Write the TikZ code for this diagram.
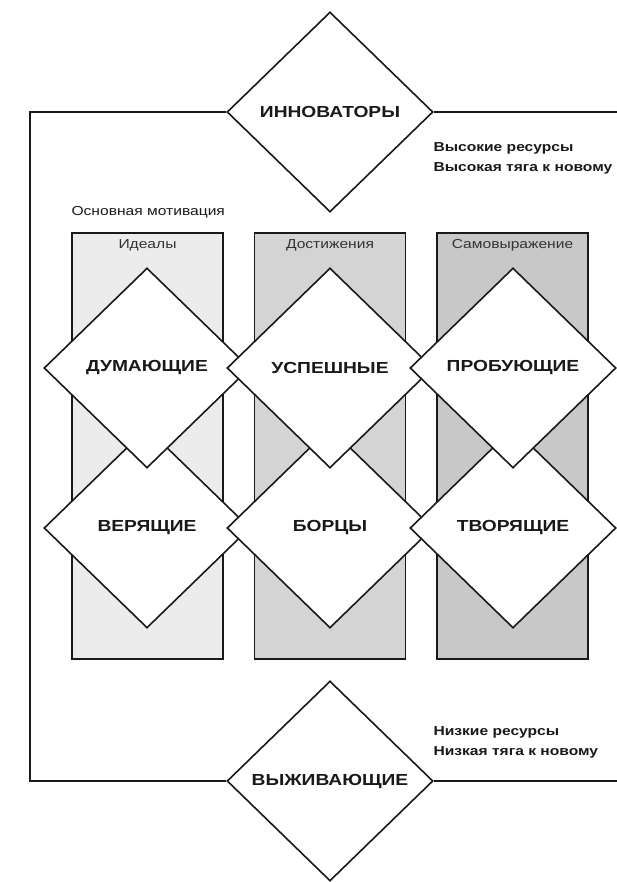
\documentclass[tikz,border=0pt]{standalone}
\usepackage{fontspec}
\setmainfont{Liberation Sans}[FakeStretch=1.2]
\usetikzlibrary{shapes.geometric,positioning}
\definecolor{colA}{RGB}{236,236,236}
\definecolor{colB}{RGB}{212,212,212}
\definecolor{colC}{RGB}{200,200,200}
\definecolor{ink}{RGB}{25,25,25}

\begin{document}
\begin{tikzpicture}[x=1pt,y=-1pt,
  seg/.style={diamond,draw=ink,line width=1.6pt,fill=white,minimum width=206pt,minimum height=200pt,inner sep=0pt,font=\fontsize{16}{19}\selectfont\bfseries,text=ink},
  col/.style={draw=ink,line width=1.5pt,minimum width=151pt,minimum height=426pt,inner sep=0pt},
  hdr/.style={font=\fontsize{13}{15}\selectfont,text=black!80},
  note/.style={align=left,anchor=west,font=\fontsize{13}{20}\selectfont\bfseries,text=ink},
  frm/.style={draw=ink,line width=2pt}]
  \useasboundingbox (0,0) rectangle (617,882);
  \node[col,fill=colA] (cid) at (147.5,446) {};
  \node[col,fill=colB] (cdo) at (330,446) {};
  \node[col,fill=colC] (csa) at (512.5,446) {};
  \node[hdr,below=4pt of cid.north] (hid) {Идеалы};
  \node[hdr,below=4pt of cdo.north] (hdo) {Достижения};
  \node[hdr,below=4pt of csa.north] (hsa) {Самовыражение};
  \node[seg] (ver) at (147,528) {ВЕРЯЩИЕ};
  \node[seg] (bor) at (330,528) {БОРЦЫ};
  \node[seg] (tvo) at (513,528) {ТВОРЯЩИЕ};
  \node[seg] (dum) at (147,368) {ДУМАЮЩИЕ};
  \node[seg] (usp) at (330,368) {УСПЕШНЫЕ};
  \node[seg] (pro) at (513,368) {ПРОБУЮЩИЕ};
  \node[seg] (inn) at (330,112) {ИННОВАТОРЫ};
  \node[seg] (vyz) at (330,781) {ВЫЖИВАЮЩИЕ};
  \coordinate (tl) at (30,112); \coordinate (bl) at (30,781);
  \coordinate (tr) at (617,112); \coordinate (br) at (617,781);
  \draw[frm] (inn.west) -- (tl) -- (bl) -- (vyz.west);
  \draw[frm] (inn.east) -- (tr);
  \draw[frm] (vyz.east) -- (br);
  \node[note] (hi) at (430,158) {Высокие ресурсы\\Высокая тяга к новому};
  \node[note] (lo) at (430,742) {Низкие ресурсы\\Низкая тяга к новому};
  \node[hdr,anchor=west,text=ink] (mot) at (68,212) {Основная мотивация};
\end{tikzpicture}
\end{document}
